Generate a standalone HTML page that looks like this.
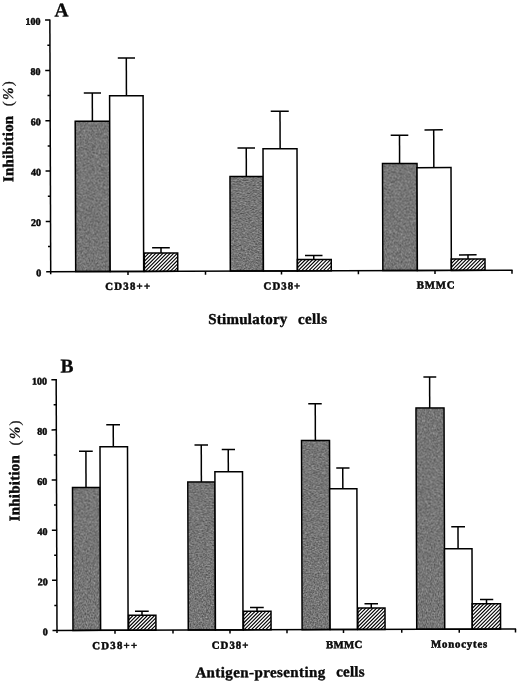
<!DOCTYPE html>
<html><head><meta charset="utf-8"><title>Figure</title>
<style>
html,body{margin:0;padding:0;background:#fff;}
body{width:520px;height:682px;overflow:hidden;font-family:"Liberation Serif",serif;}
svg{display:block;filter:grayscale(1);}
svg text{font-family:"Liberation Serif",serif;font-weight:bold;fill:#0a0a0a;stroke:#0a0a0a;stroke-width:0.3px;}
.yl{font-size:10px;stroke-width:0.5px;}
.xl{font-size:10.8px;stroke-width:0.5px;}
.tt{font-size:15px;stroke-width:0.4px;}
.pl{font-size:19.5px;}
svg text.pp{font-size:15px;font-weight:normal;stroke-width:0.25px;}
svg .pc{font-style:italic;font-weight:bold;stroke-width:0.2px;}
line{stroke:#000;}
</style></head><body>
<svg width="520" height="682" viewBox="0 0 520 682">
<defs>
<filter id="nz" x="0" y="0" width="100%" height="100%" color-interpolation-filters="sRGB">
<feTurbulence type="fractalNoise" baseFrequency="0.75" numOctaves="2" seed="7" result="n"/>
<feColorMatrix in="n" type="matrix" values="0.65 0 0 0 0.135  0.65 0 0 0 0.135  0.65 0 0 0 0.135  0 0 0 0 1" result="g"/>
<feComposite in="g" in2="SourceGraphic" operator="in"/>
</filter>
</defs>
<rect width="520" height="682" fill="#fff"/>
<g transform="rotate(-0.19 260 341)">
<rect x="75.93" y="120.65" width="34.48" height="150.36" fill="#777" filter="url(#nz)"/>
<rect x="75.93" y="120.65" width="34.48" height="150.36" fill="none" stroke="#000" stroke-width="1.5"/>
<line x1="93.12" y1="92.45" x2="93.12" y2="120.65" stroke-width="1.5"/>
<line x1="84.62" y1="92.45" x2="101.82" y2="92.45" stroke-width="1.5"/>
<rect x="110.41" y="95.26" width="33.50" height="175.75" fill="#fff" stroke="#000" stroke-width="1.5"/>
<line x1="127.24" y1="57.56" x2="127.24" y2="95.26" stroke-width="1.5"/>
<line x1="118.74" y1="57.56" x2="135.94" y2="57.56" stroke-width="1.5"/>
<clipPath id="c1"><rect x="144.61" y="252.67" width="33.38" height="18.33"/></clipPath>
<path d="M146.11 252.17L126.78 271.51M149.71 252.17L130.38 271.51M153.31 252.17L133.98 271.51M156.91 252.17L137.58 271.51M160.51 252.17L141.18 271.51M164.11 252.17L144.78 271.51M167.71 252.17L148.38 271.51M171.31 252.17L151.98 271.51M174.91 252.17L155.58 271.51M178.51 252.17L159.18 271.51M182.11 252.17L162.78 271.51M185.71 252.17L166.38 271.51M189.31 252.17L169.98 271.51M192.91 252.17L173.58 271.51M196.51 252.17L177.18 271.51" clip-path="url(#c1)" stroke="#000" stroke-width="1.12" fill="none"/>
<rect x="144.61" y="252.67" width="33.38" height="18.33" fill="none" stroke="#000" stroke-width="1.5"/>
<line x1="161.31" y1="247.47" x2="161.31" y2="252.67" stroke-width="1.5"/>
<line x1="152.41" y1="247.47" x2="170.11" y2="247.47" stroke-width="1.5"/>
<rect x="230.55" y="176.46" width="33.09" height="94.55" fill="#777" filter="url(#nz)"/>
<rect x="230.55" y="176.46" width="33.09" height="94.55" fill="none" stroke="#000" stroke-width="1.5"/>
<line x1="246.89" y1="147.96" x2="246.89" y2="176.46" stroke-width="1.5"/>
<line x1="238.14" y1="147.96" x2="255.64" y2="147.96" stroke-width="1.5"/>
<rect x="263.64" y="148.82" width="34.00" height="122.19" fill="#fff" stroke="#000" stroke-width="1.5"/>
<line x1="280.76" y1="111.32" x2="280.76" y2="148.82" stroke-width="1.5"/>
<line x1="271.51" y1="111.32" x2="289.51" y2="111.32" stroke-width="1.5"/>
<clipPath id="c2"><rect x="297.64" y="259.68" width="33.88" height="11.33"/></clipPath>
<path d="M299.14 259.18L286.81 271.51M302.74 259.18L290.41 271.51M306.34 259.18L294.01 271.51M309.94 259.18L297.61 271.51M313.54 259.18L301.21 271.51M317.14 259.18L304.81 271.51M320.74 259.18L308.41 271.51M324.34 259.18L312.01 271.51M327.94 259.18L315.61 271.51M331.54 259.18L319.21 271.51M335.14 259.18L322.81 271.51M338.74 259.18L326.41 271.51M342.34 259.18L330.01 271.51" clip-path="url(#c2)" stroke="#000" stroke-width="1.12" fill="none"/>
<rect x="297.64" y="259.68" width="33.88" height="11.33" fill="none" stroke="#000" stroke-width="1.5"/>
<line x1="314.03" y1="255.68" x2="314.03" y2="259.68" stroke-width="1.5"/>
<line x1="305.28" y1="255.68" x2="322.78" y2="255.68" stroke-width="1.5"/>
<rect x="383.09" y="163.96" width="34.50" height="107.04" fill="#777" filter="url(#nz)"/>
<rect x="383.09" y="163.96" width="34.50" height="107.04" fill="none" stroke="#000" stroke-width="1.5"/>
<line x1="400.18" y1="135.66" x2="400.18" y2="163.96" stroke-width="1.5"/>
<line x1="391.38" y1="135.66" x2="408.98" y2="135.66" stroke-width="1.5"/>
<rect x="417.59" y="168.18" width="33.99" height="102.83" fill="#fff" stroke="#000" stroke-width="1.5"/>
<line x1="434.40" y1="130.48" x2="434.40" y2="168.18" stroke-width="1.5"/>
<line x1="425.20" y1="130.48" x2="443.50" y2="130.48" stroke-width="1.5"/>
<clipPath id="c3"><rect x="451.57" y="259.69" width="33.70" height="11.32"/></clipPath>
<path d="M453.07 259.19L440.76 271.51M456.67 259.19L444.36 271.51M460.27 259.19L447.96 271.51M463.87 259.19L451.56 271.51M467.47 259.19L455.16 271.51M471.07 259.19L458.76 271.51M474.67 259.19L462.36 271.51M478.27 259.19L465.96 271.51M481.87 259.19L469.56 271.51M485.47 259.19L473.16 271.51M489.07 259.19L476.76 271.51M492.67 259.19L480.36 271.51M496.27 259.19L483.96 271.51" clip-path="url(#c3)" stroke="#000" stroke-width="1.12" fill="none"/>
<rect x="451.57" y="259.69" width="33.70" height="11.32" fill="none" stroke="#000" stroke-width="1.5"/>
<line x1="468.28" y1="255.59" x2="468.28" y2="259.69" stroke-width="1.5"/>
<line x1="459.28" y1="255.59" x2="476.88" y2="255.59" stroke-width="1.5"/>
<line x1="50.93" y1="18.81" x2="50.93" y2="273.51" stroke-width="1.5"/>
<line x1="46.43" y1="271.01" x2="512.83" y2="271.01" stroke-width="1.5"/>
<line x1="48.33" y1="245.85" x2="50.93" y2="245.85" stroke-width="1.5"/>
<line x1="46.13" y1="220.69" x2="50.93" y2="220.69" stroke-width="1.5"/>
<line x1="48.33" y1="195.53" x2="50.93" y2="195.53" stroke-width="1.5"/>
<line x1="46.13" y1="170.37" x2="50.93" y2="170.37" stroke-width="1.5"/>
<line x1="48.33" y1="145.21" x2="50.93" y2="145.21" stroke-width="1.5"/>
<line x1="46.13" y1="120.05" x2="50.93" y2="120.05" stroke-width="1.5"/>
<line x1="48.33" y1="94.89" x2="50.93" y2="94.89" stroke-width="1.5"/>
<line x1="46.13" y1="69.73" x2="50.93" y2="69.73" stroke-width="1.5"/>
<line x1="48.33" y1="44.57" x2="50.93" y2="44.57" stroke-width="1.5"/>
<line x1="46.13" y1="19.41" x2="50.93" y2="19.41" stroke-width="1.5"/>
<line x1="128.23" y1="271.01" x2="128.23" y2="274.51" stroke-width="1.5"/>
<line x1="205.73" y1="271.01" x2="205.73" y2="274.51" stroke-width="1.5"/>
<line x1="281.73" y1="271.01" x2="281.73" y2="274.51" stroke-width="1.5"/>
<line x1="358.63" y1="271.01" x2="358.63" y2="274.51" stroke-width="1.5"/>
<line x1="435.23" y1="271.01" x2="435.23" y2="274.51" stroke-width="1.5"/>
<line x1="512.23" y1="271.01" x2="512.23" y2="274.51" stroke-width="1.5"/>
<text x="41.45" y="275.51" text-anchor="end" class="yl">0</text>
<text x="41.45" y="225.19" text-anchor="end" class="yl">20</text>
<text x="41.45" y="174.87" text-anchor="end" class="yl">40</text>
<text x="41.45" y="124.55" text-anchor="end" class="yl">60</text>
<text x="41.45" y="74.23" text-anchor="end" class="yl">80</text>
<text x="41.45" y="23.91" text-anchor="end" class="yl">100</text>
<rect x="72.02" y="486.92" width="27.63" height="142.90" fill="#777" filter="url(#nz)"/>
<rect x="72.02" y="486.92" width="27.63" height="142.90" fill="none" stroke="#000" stroke-width="1.5"/>
<line x1="85.54" y1="450.67" x2="85.54" y2="486.92" stroke-width="1.5"/>
<line x1="78.64" y1="450.67" x2="92.39" y2="450.67" stroke-width="1.5"/>
<rect x="99.65" y="446.26" width="27.50" height="183.56" fill="#fff" stroke="#000" stroke-width="1.5"/>
<line x1="112.97" y1="424.26" x2="112.97" y2="446.26" stroke-width="1.5"/>
<line x1="105.97" y1="424.26" x2="119.72" y2="424.26" stroke-width="1.5"/>
<clipPath id="c4"><rect x="127.75" y="614.91" width="27.24" height="14.92"/></clipPath>
<path d="M129.25 614.41L113.33 630.33M132.85 614.41L116.93 630.33M136.45 614.41L120.53 630.33M140.05 614.41L124.13 630.33M143.65 614.41L127.73 630.33M147.25 614.41L131.33 630.33M150.85 614.41L134.93 630.33M154.45 614.41L138.53 630.33M158.05 614.41L142.13 630.33M161.65 614.41L145.73 630.33M165.25 614.41L149.33 630.33M168.85 614.41L152.93 630.33" clip-path="url(#c4)" stroke="#000" stroke-width="1.12" fill="none"/>
<rect x="127.75" y="614.91" width="27.24" height="14.92" fill="none" stroke="#000" stroke-width="1.5"/>
<line x1="141.10" y1="610.86" x2="141.10" y2="614.91" stroke-width="1.5"/>
<line x1="134.10" y1="610.86" x2="147.85" y2="610.86" stroke-width="1.5"/>
<rect x="187.33" y="481.80" width="27.13" height="148.02" fill="#777" filter="url(#nz)"/>
<rect x="187.33" y="481.80" width="27.13" height="148.02" fill="none" stroke="#000" stroke-width="1.5"/>
<line x1="200.91" y1="444.80" x2="200.91" y2="481.80" stroke-width="1.5"/>
<line x1="194.16" y1="444.80" x2="207.66" y2="444.80" stroke-width="1.5"/>
<rect x="214.47" y="471.65" width="27.60" height="158.18" fill="#fff" stroke="#000" stroke-width="1.5"/>
<line x1="227.89" y1="449.39" x2="227.89" y2="471.65" stroke-width="1.5"/>
<line x1="221.39" y1="449.39" x2="234.64" y2="449.39" stroke-width="1.5"/>
<clipPath id="c5"><rect x="242.57" y="611.24" width="27.54" height="18.59"/></clipPath>
<path d="M244.07 610.74L224.48 630.33M247.67 610.74L228.08 630.33M251.27 610.74L231.68 630.33M254.87 610.74L235.28 630.33M258.47 610.74L238.88 630.33M262.07 610.74L242.48 630.33M265.67 610.74L246.08 630.33M269.27 610.74L249.68 630.33M272.87 610.74L253.28 630.33M276.47 610.74L256.88 630.33M280.07 610.74L260.48 630.33M283.67 610.74L264.08 630.33M287.27 610.74L267.68 630.33" clip-path="url(#c5)" stroke="#000" stroke-width="1.12" fill="none"/>
<rect x="242.57" y="611.24" width="27.54" height="18.59" fill="none" stroke="#000" stroke-width="1.5"/>
<line x1="256.12" y1="607.49" x2="256.12" y2="611.24" stroke-width="1.5"/>
<line x1="249.12" y1="607.49" x2="262.87" y2="607.49" stroke-width="1.5"/>
<rect x="301.17" y="440.68" width="28.00" height="189.14" fill="#777" filter="url(#nz)"/>
<rect x="301.17" y="440.68" width="28.00" height="189.14" fill="none" stroke="#000" stroke-width="1.5"/>
<line x1="315.04" y1="403.93" x2="315.04" y2="440.68" stroke-width="1.5"/>
<line x1="308.04" y1="403.93" x2="321.54" y2="403.93" stroke-width="1.5"/>
<rect x="329.17" y="489.03" width="27.24" height="140.80" fill="#fff" stroke="#000" stroke-width="1.5"/>
<line x1="342.33" y1="468.27" x2="342.33" y2="489.03" stroke-width="1.5"/>
<line x1="335.83" y1="468.27" x2="349.08" y2="468.27" stroke-width="1.5"/>
<clipPath id="c6"><rect x="356.91" y="608.37" width="27.20" height="21.46"/></clipPath>
<path d="M358.41 607.87L335.95 630.33M362.01 607.87L339.55 630.33M365.61 607.87L343.15 630.33M369.21 607.87L346.75 630.33M372.81 607.87L350.35 630.33M376.41 607.87L353.95 630.33M380.01 607.87L357.55 630.33M383.61 607.87L361.15 630.33M387.21 607.87L364.75 630.33M390.81 607.87L368.35 630.33M394.41 607.87L371.95 630.33M398.01 607.87L375.55 630.33M401.61 607.87L379.15 630.33M405.21 607.87L382.75 630.33" clip-path="url(#c6)" stroke="#000" stroke-width="1.12" fill="none"/>
<rect x="356.91" y="608.37" width="27.20" height="21.46" fill="none" stroke="#000" stroke-width="1.5"/>
<line x1="370.38" y1="604.12" x2="370.38" y2="608.37" stroke-width="1.5"/>
<line x1="363.63" y1="604.12" x2="377.13" y2="604.12" stroke-width="1.5"/>
<rect x="415.78" y="408.56" width="28.00" height="221.26" fill="#777" filter="url(#nz)"/>
<rect x="415.78" y="408.56" width="28.00" height="221.26" fill="none" stroke="#000" stroke-width="1.5"/>
<line x1="429.48" y1="377.56" x2="429.48" y2="408.56" stroke-width="1.5"/>
<line x1="423.28" y1="377.56" x2="436.13" y2="377.56" stroke-width="1.5"/>
<rect x="443.78" y="549.41" width="27.53" height="80.42" fill="#fff" stroke="#000" stroke-width="1.5"/>
<line x1="457.38" y1="527.41" x2="457.38" y2="549.41" stroke-width="1.5"/>
<line x1="450.63" y1="527.41" x2="464.38" y2="527.41" stroke-width="1.5"/>
<clipPath id="c7"><rect x="471.31" y="604.50" width="28.32" height="25.33"/></clipPath>
<path d="M472.81 604.00L446.48 630.33M476.41 604.00L450.08 630.33M480.01 604.00L453.68 630.33M483.61 604.00L457.28 630.33M487.21 604.00L460.88 630.33M490.81 604.00L464.48 630.33M494.41 604.00L468.08 630.33M498.01 604.00L471.68 630.33M501.61 604.00L475.28 630.33M505.21 604.00L478.88 630.33M508.81 604.00L482.48 630.33M512.41 604.00L486.08 630.33M516.01 604.00L489.68 630.33M519.61 604.00L493.28 630.33M523.21 604.00L496.88 630.33" clip-path="url(#c7)" stroke="#000" stroke-width="1.12" fill="none"/>
<rect x="471.31" y="604.50" width="28.32" height="25.33" fill="none" stroke="#000" stroke-width="1.5"/>
<line x1="485.64" y1="600.25" x2="485.64" y2="604.50" stroke-width="1.5"/>
<line x1="479.14" y1="600.25" x2="492.39" y2="600.25" stroke-width="1.5"/>
<line x1="56.04" y1="378.43" x2="56.04" y2="632.33" stroke-width="1.5"/>
<line x1="51.54" y1="629.83" x2="515.14" y2="629.83" stroke-width="1.5"/>
<line x1="53.44" y1="604.75" x2="56.04" y2="604.75" stroke-width="1.5"/>
<line x1="51.24" y1="579.67" x2="56.04" y2="579.67" stroke-width="1.5"/>
<line x1="53.44" y1="554.59" x2="56.04" y2="554.59" stroke-width="1.5"/>
<line x1="51.24" y1="529.51" x2="56.04" y2="529.51" stroke-width="1.5"/>
<line x1="53.44" y1="504.43" x2="56.04" y2="504.43" stroke-width="1.5"/>
<line x1="51.24" y1="479.35" x2="56.04" y2="479.35" stroke-width="1.5"/>
<line x1="53.44" y1="454.27" x2="56.04" y2="454.27" stroke-width="1.5"/>
<line x1="51.24" y1="429.19" x2="56.04" y2="429.19" stroke-width="1.5"/>
<line x1="53.44" y1="404.11" x2="56.04" y2="404.11" stroke-width="1.5"/>
<line x1="51.24" y1="379.03" x2="56.04" y2="379.03" stroke-width="1.5"/>
<line x1="114.04" y1="629.83" x2="114.04" y2="633.33" stroke-width="1.5"/>
<line x1="172.04" y1="629.83" x2="172.04" y2="633.33" stroke-width="1.5"/>
<line x1="229.04" y1="629.83" x2="229.04" y2="633.33" stroke-width="1.5"/>
<line x1="286.04" y1="629.83" x2="286.04" y2="633.33" stroke-width="1.5"/>
<line x1="342.54" y1="629.83" x2="342.54" y2="633.33" stroke-width="1.5"/>
<line x1="400.79" y1="629.83" x2="400.79" y2="633.33" stroke-width="1.5"/>
<line x1="458.29" y1="629.83" x2="458.29" y2="633.33" stroke-width="1.5"/>
<line x1="514.54" y1="629.83" x2="514.54" y2="633.33" stroke-width="1.5"/>
<text x="46.86" y="634.63" text-anchor="end" class="yl">0</text>
<text x="46.86" y="584.47" text-anchor="end" class="yl">20</text>
<text x="46.86" y="534.31" text-anchor="end" class="yl">40</text>
<text x="46.86" y="484.15" text-anchor="end" class="yl">60</text>
<text x="46.86" y="433.99" text-anchor="end" class="yl">80</text>
<text x="46.86" y="383.83" text-anchor="end" class="yl">100</text>
<text x="55.68" y="15.72" text-anchor="start" class="pl">A</text>
<text x="60.50" y="371.74" text-anchor="start" class="pl">B</text>
<text x="105.47" y="289.39" text-anchor="start" class="xl" textLength="44.8" lengthAdjust="spacing">CD38++</text>
<text x="263.77" y="289.61" text-anchor="start" class="xl" textLength="36.6" lengthAdjust="spacing">CD38+</text>
<text x="416.97" y="289.12" text-anchor="start" class="xl" textLength="37.8" lengthAdjust="spacing">BMMC</text>
<text x="91.28" y="648.64" text-anchor="start" class="xl" textLength="44.8" lengthAdjust="spacing">CD38++</text>
<text x="210.78" y="648.64" text-anchor="start" class="xl" textLength="36.6" lengthAdjust="spacing">CD38+</text>
<text x="324.98" y="648.42" text-anchor="start" class="xl" textLength="36.2" lengthAdjust="spacing">BMMC</text>
<text x="429.98" y="648.17" text-anchor="start" class="xl" textLength="56.2" lengthAdjust="spacing">Monocytes</text>
<text x="208.36" y="323.93" text-anchor="start" class="tt" textLength="79.0" lengthAdjust="spacing">Stimulatory</text>
<text x="298.06" y="324.03" text-anchor="start" class="tt" textLength="29.0" lengthAdjust="spacing">cells</text>
<text x="194.28" y="677.18" text-anchor="start" class="tt" textLength="129.8" lengthAdjust="spacing">Antigen-presenting</text>
<text x="335.09" y="676.85" text-anchor="start" class="tt" textLength="28.4" lengthAdjust="spacing">cells</text>
<text transform="translate(13.73 181.18) rotate(-90)" class="tt" textLength="66.2" lengthAdjust="spacing">Inhibition</text>
<text transform="translate(13.68 105.48) rotate(-90)" class="pp" textLength="25.0" lengthAdjust="spacing">(<tspan class="pc">%</tspan>)</text>
<text transform="translate(18.90 520.50) rotate(-90)" class="tt" textLength="66.2" lengthAdjust="spacing">Inhibition</text>
<text transform="translate(19.45 444.70) rotate(-90)" class="pp" textLength="25.0" lengthAdjust="spacing">(<tspan class="pc">%</tspan>)</text>
</g>
</svg>
</body></html>
